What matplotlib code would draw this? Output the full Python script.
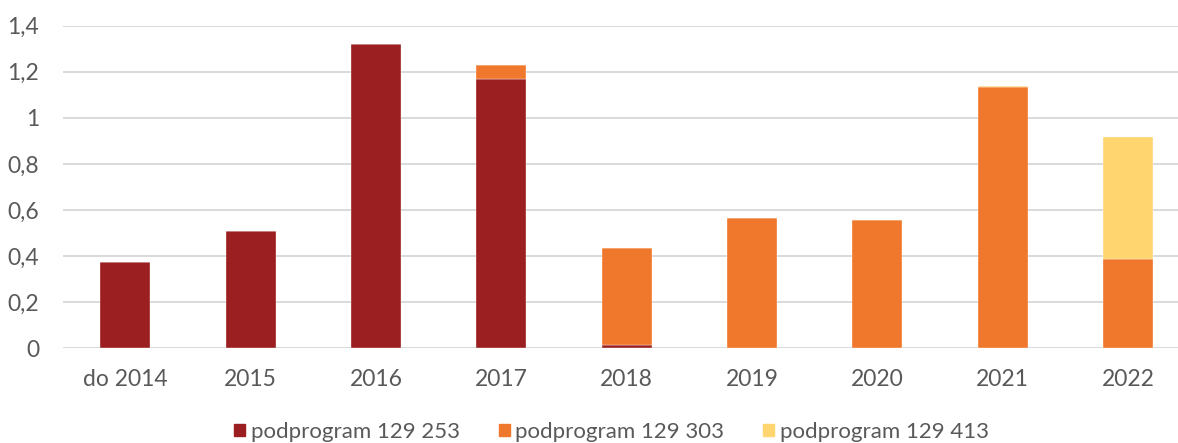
import matplotlib
matplotlib.use("Agg")
import matplotlib.pyplot as plt
import matplotlib.patches as mpatches
import numpy as np

categories = ["do 2014", "2015", "2016", "2017", "2018", "2019", "2020", "2021", "2022"]
series_names = ["podprogram 129 253", "podprogram 129 303", "podprogram 129 413"]
s253 = [0.373, 0.510, 1.321, 1.170, 0.015, 0.0, 0.0, 0.0, 0.0]
s303 = [0.0, 0.0, 0.0, 0.057, 0.418, 0.564, 0.558, 1.132, 0.386]
s413 = [0.0, 0.0, 0.0, 0.0, 0.0, 0.0, 0.0, 0.006, 0.530]
yticks = [0, 0.2, 0.4, 0.6, 0.8, 1.0, 1.2, 1.4]
ytick_labels = ["0", "0,2", "0,4", "0,6", "0,8", "1", "1,2", "1,4"]
colors = ["#9B1F20", "#F0782C", "#FFD56F"]

plt.rcParams['font.family'] = ['Lato', 'DejaVu Sans']
fs = 16.5
txt = "#595959"

fig = plt.figure(figsize=(11.78, 4.43), dpi=100)
ax = fig.add_axes([0.0532, 0.2138, 0.9576, 0.7284])

x = np.arange(len(categories))
bottom = np.zeros(len(categories))
for vals, c in zip([s253, s303, s413], colors):
    v = np.array(vals)
    ax.bar(x, v, width=0.4, bottom=bottom, color=c, edgecolor="white", linewidth=0.25, zorder=3)
    bottom += v

ax.set_xlim(-0.5, len(categories) - 0.5)
ax.set_ylim(0, 1.4)
ax.set_yticks(yticks)
ax.set_yticklabels(ytick_labels)
ax.set_xticks(x)
ax.set_xticklabels(categories)
ax.tick_params(axis="y", length=0, pad=17, labelsize=fs, labelcolor=txt)
ax.tick_params(axis="x", length=0, pad=15, labelsize=fs, labelcolor=txt)
ax.grid(axis="y", color="#D9D9D9", linewidth=1.4, zorder=0)
for s in ax.spines.values():
    s.set_visible(False)

handles = [mpatches.Patch(color=c, label=n) for c, n in zip(colors, series_names)]
fig.legend(handles=handles, loc="center", bbox_to_anchor=(0.519, 0.025), ncol=3,
           frameon=False, fontsize=16, labelcolor=txt, handlelength=0.5, handleheight=0.5,
           handletextpad=0.25, columnspacing=1.75, borderaxespad=0, borderpad=0)

fig.savefig("out.png", dpi=100)
